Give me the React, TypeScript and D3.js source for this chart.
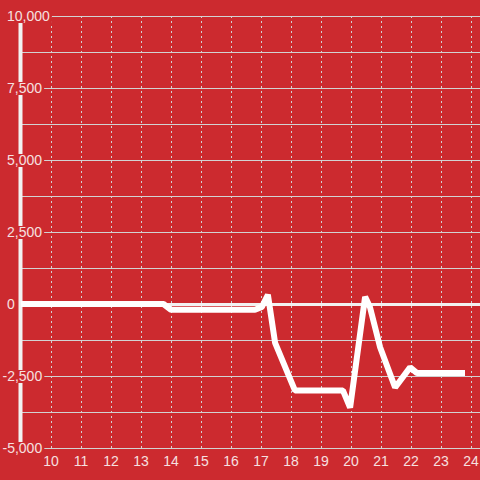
import React from "react";
import * as d3 from "d3";

const hours = [9, 13.75, 14.0, 16.8, 17.03, 17.23, 17.47, 18.13, 19.73, 19.97, 20.47, 20.63, 20.97, 21.47, 21.97, 22.2, 23.8];
const values = [0, 0, -200, -200, -100, 320, -1350, -3000, -3000, -3600, 250, -100, -1500, -2900, -2200, -2400, -2400];
const xTicks = [10, 11, 12, 13, 14, 15, 16, 17, 18, 19, 20, 21, 22, 23, 24];
const yMajor = [10000, 7500, 5000, 2500, 0, -2500, -5000];
const yMinor = [8750, 6250, 3750, 1250, -1250, -3750];

const W = 480;
const H = 480;
const BG = "#cc2a2f";
const TXT = "#f6e0e0";
const GRID = "#d2d2d2";

const fmt = d3.format(",");

function textWidth(s: string) {
  let w = 0;
  for (const c of s) {
    if (c === ",") w += 3.9;
    else if (c === "-") w += 4.7;
    else w += 7.8;
  }
  return w;
}

export default function App() {
  const x = d3.scaleLinear().domain([9, 24]).range([21, 471]);
  const y = d3.scaleLinear().domain([-5000, 10000]).range([448, 16]);
  const data = hours.map((h, i) => [h, values[i]] as [number, number]);
  const line = d3
    .line<[number, number]>()
    .x((d) => x(d[0]))
    .y((d) => y(d[1]));

  return (
    <svg
      width={W}
      height={H}
      style={{ position: "absolute", left: 0, top: 0, display: "block" }}
      fontFamily="'Liberation Sans', Arial, sans-serif"
    >
      <rect x={0} y={0} width={W} height={H} fill={BG} />
      {yMinor.map((v) => (
        <line key={"mn" + v} x1={21} x2={W} y1={y(v) + 0.5} y2={y(v) + 0.5} stroke={GRID} strokeWidth={1} />
      ))}
      {yMajor
        .filter((v) => v !== 0)
        .map((v) => (
          <line key={"mj" + v} x1={21} x2={W} y1={y(v) + 0.5} y2={y(v) + 0.5} stroke={GRID} strokeWidth={1} />
        ))}
      {xTicks.map((t) => (
        <line
          key={"vx" + t}
          x1={x(t) + 0.5}
          x2={x(t) + 0.5}
          y1={y(10000)}
          y2={y(-5000)}
          stroke={GRID}
          strokeWidth={1}
          strokeDasharray="2,3"
        />
      ))}
      <line x1={21} x2={W} y1={y(0) + 0.5} y2={y(0) + 0.5} stroke="#f2f2f2" strokeWidth={3} />
      <line x1={20.5} x2={20.5} y1={y(10000)} y2={y(-5000)} stroke="#f2f2f2" strokeWidth={4} />
      <path d={line(data) || ""} fill="none" stroke="#ffffff" strokeWidth={6} strokeLinejoin="bevel" />
      {yMajor.map((v) => {
        const s = fmt(v).replace("−", "-");
        const x0 = v < 0 ? 2.5 : 7;
        const w = textWidth(s);
        return (
          <g key={"yl" + v}>
            <rect x={x0 - 2} y={y(v) - 6} width={w + 4} height={13} fill={BG} />
            <text x={x0} y={y(v)} dy="0.36em" fill={TXT} fontSize={14}>
              {s}
            </text>
          </g>
        );
      })}
      {xTicks.map((t) => (
        <text key={"xl" + t} x={x(t)} y={466} textAnchor="middle" fill={TXT} fontSize={14}>
          {t}
        </text>
      ))}
    </svg>
  );
}
